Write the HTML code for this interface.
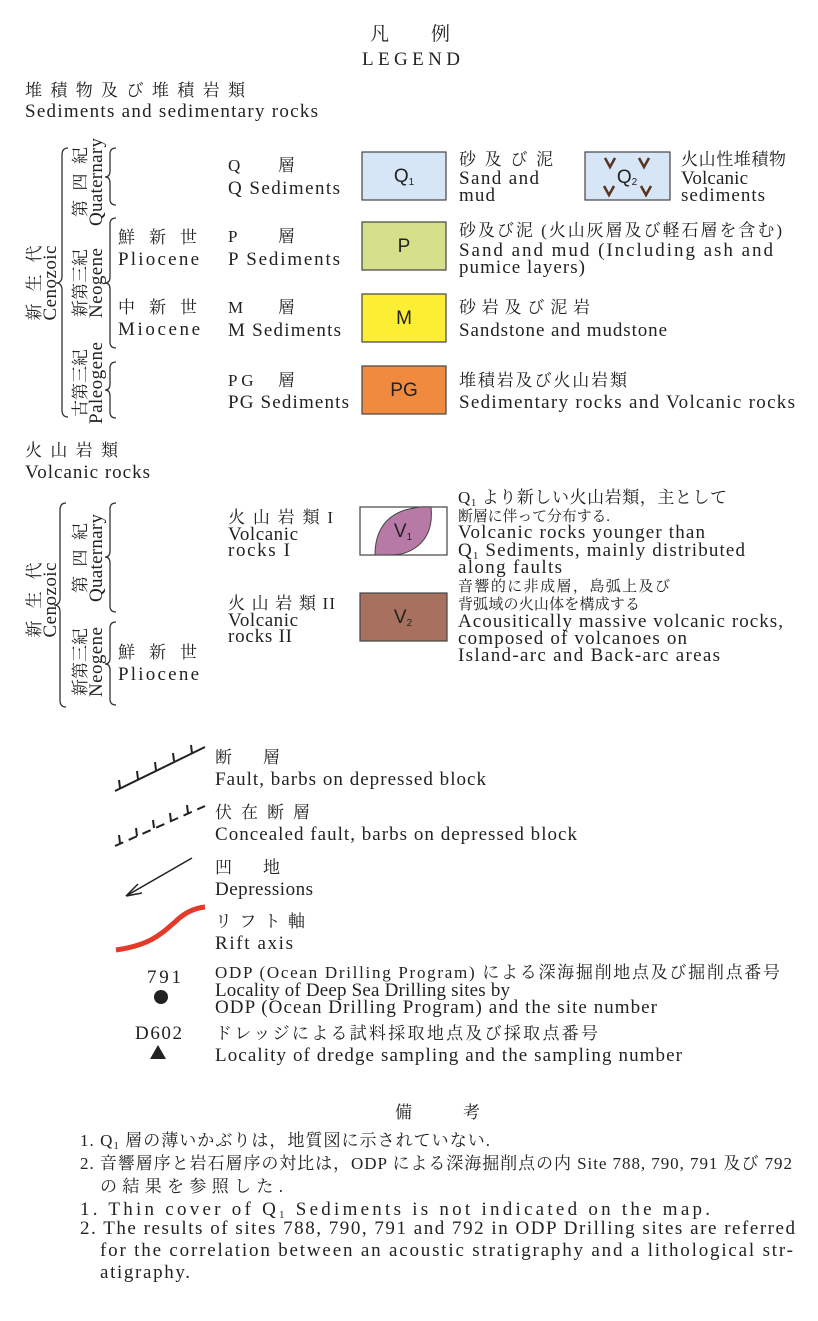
<!DOCTYPE html>
<html><head><meta charset="utf-8"><style>
html,body{margin:0;padding:0;background:#fff;}
svg{display:block;}
text{font-family:"Liberation Serif","Noto Serif CJK JP",serif;fill:#222;font-size:19px;}
.s{font-family:"Liberation Sans","Noto Sans CJK JP",sans-serif;}
.j{font-size:17px;}
.k{font-size:15px;}
</style></head><body>
<svg width="818" height="1321" viewBox="0 0 818 1321" xmlns="http://www.w3.org/2000/svg">
<text x="370" y="40" font-size="20" textLength="80" lengthAdjust="spacing">凡　例</text>
<text x="362" y="65" font-size="22" textLength="98" lengthAdjust="spacing">LEGEND</text>
<text x="25" y="96" class="j" textLength="220" lengthAdjust="spacing">堆積物及び堆積岩類</text>
<text x="25" y="117" textLength="293" lengthAdjust="spacing">Sediments and sedimentary rocks</text>

<g fill="none" stroke="#333" stroke-width="1.3">
<path d="M68 148 Q62 148 62 155 L62 276 Q62 283 56 283 Q62 283 62 290 L62 410 Q62 417 68 417"/>
<path d="M116 148 Q110 148 110 154 L110 171 Q110 177 105 177 Q110 177 110 183 L110 199 Q110 205 116 205"/>
<path d="M116 218 Q110 218 110 224 L110 277 Q110 283 105 283 Q110 283 110 289 L110 342 Q110 348 116 348"/>
<path d="M116 362 Q110 362 110 368 L110 384 Q110 390 105 390 Q110 390 110 396 L110 412 Q110 418 116 418"/>
<path d="M66 503 Q60 503 60 510 L60 598 Q60 605 54 605 Q60 605 60 612 L60 700 Q60 707 66 707"/>
<path d="M116 503 Q110 503 110 509 L110 551 Q110 557 105 557 Q110 557 110 563 L110 606 Q110 612 116 612"/>
<path d="M116 622 Q110 622 110 628 L110 658 Q110 664 105 664 Q110 664 110 670 L110 699 Q110 705 116 705"/>
</g>

<text transform="translate(40 283) rotate(-90)" class="j" text-anchor="middle" textLength="75" lengthAdjust="spacing">新 生 代</text>
<text transform="translate(56 283) rotate(-90)" text-anchor="middle" textLength="75" lengthAdjust="spacing">Cenozoic</text>
<text transform="translate(86 182) rotate(-90)" class="j" text-anchor="middle" textLength="70" lengthAdjust="spacing">第 四 紀</text>
<text transform="translate(102 182) rotate(-90)" text-anchor="middle" textLength="88" lengthAdjust="spacing">Quaternary</text>
<text transform="translate(86 283) rotate(-90)" class="j" text-anchor="middle">新第三紀</text>
<text transform="translate(102 283) rotate(-90)" text-anchor="middle" textLength="70" lengthAdjust="spacing">Neogene</text>
<text transform="translate(86 383) rotate(-90)" class="j" text-anchor="middle">古第三紀</text>
<text transform="translate(102 383) rotate(-90)" text-anchor="middle" textLength="82" lengthAdjust="spacing">Paleogene</text>

<text x="118" y="243" class="j" textLength="79" lengthAdjust="spacing">鮮 新 世</text><text x="118" y="265" textLength="81" lengthAdjust="spacing">Pliocene</text>
<text x="118" y="313" class="j" textLength="79" lengthAdjust="spacing">中 新 世</text><text x="118" y="335" textLength="82" lengthAdjust="spacing">Miocene</text>

<text x="228" y="171" class="j" textLength="67" lengthAdjust="spacing">Q　　層</text><text x="228" y="194" textLength="112" lengthAdjust="spacing">Q  Sediments</text>
<text x="228" y="242" class="j" textLength="67" lengthAdjust="spacing">P　　層</text><text x="228" y="265" textLength="112" lengthAdjust="spacing">P  Sediments</text>
<text x="228" y="313" class="j" textLength="67" lengthAdjust="spacing">M　　層</text><text x="228" y="336" textLength="113" lengthAdjust="spacing">M Sediments</text>
<text x="228" y="386" class="j" textLength="67" lengthAdjust="spacing">PG　層</text><text x="228" y="408" textLength="121" lengthAdjust="spacing">PG Sediments</text>

<rect x="362" y="152" width="84" height="48" fill="#d6e6f6" stroke="#444" stroke-width="1.2"/>
<text x="404" y="182" class="s" font-size="15" text-anchor="middle">Q<tspan font-size="10" dy="3">1</tspan></text>
<rect x="585" y="152" width="85" height="48" fill="#d6e6f6" stroke="#444" stroke-width="1.2"/>
<text x="627" y="183" class="s" font-size="15" text-anchor="middle">Q<tspan font-size="10" dy="2">2</tspan></text>
<g fill="none" stroke="#5a3320" stroke-width="2.5">
<path d="M605 158 L610 167 L615 158"/><path d="M639 158 L644 167 L649 158"/>
<path d="M604 186 L609 195 L614 186"/><path d="M641 186 L646 195 L651 186"/>
</g>
<rect x="362" y="222" width="84" height="48" fill="#d6e08a" stroke="#444" stroke-width="1.2"/>
<text x="404" y="252" class="s" font-size="15" text-anchor="middle">P</text>
<rect x="362" y="294" width="84" height="48" fill="#fbee33" stroke="#444" stroke-width="1.2"/>
<text x="404" y="324" class="s" font-size="15" text-anchor="middle">M</text>
<rect x="362" y="366" width="84" height="48" fill="#f08a3e" stroke="#444" stroke-width="1.2"/>
<text x="404" y="396" class="s" font-size="15" text-anchor="middle">PG</text>

<text x="459" y="165" class="j" textLength="94" lengthAdjust="spacing">砂 及 び 泥</text><text x="459" y="184" textLength="80" lengthAdjust="spacing">Sand and</text><text x="459" y="201" textLength="36" lengthAdjust="spacing">mud</text>
<text x="681" y="165" class="j" textLength="105" lengthAdjust="spacing">火山性堆積物</text><text x="681" y="184" textLength="67" lengthAdjust="spacing">Volcanic</text><text x="681" y="201" textLength="84" lengthAdjust="spacing">sediments</text>
<text x="459" y="236" class="j" textLength="323" lengthAdjust="spacing">砂及び泥 (火山灰層及び軽石層を含む)</text>
<text x="459" y="256" textLength="314" lengthAdjust="spacing">Sand and mud (Including ash and</text>
<text x="459" y="273" textLength="126" lengthAdjust="spacing">pumice layers)</text>
<text x="459" y="313" class="j" textLength="131" lengthAdjust="spacing">砂岩及び泥岩</text><text x="459" y="336" textLength="208" lengthAdjust="spacing">Sandstone and mudstone</text>
<text x="459" y="386" class="j" textLength="168" lengthAdjust="spacing">堆積岩及び火山岩類</text><text x="459" y="408" textLength="336" lengthAdjust="spacing">Sedimentary rocks and Volcanic rocks</text>

<text x="25" y="456" class="j" textLength="93" lengthAdjust="spacing">火 山 岩 類</text>
<text x="25" y="478" textLength="125" lengthAdjust="spacing">Volcanic rocks</text>

<text transform="translate(40 600) rotate(-90)" class="j" text-anchor="middle" textLength="75" lengthAdjust="spacing">新 生 代</text>
<text transform="translate(56 600) rotate(-90)" text-anchor="middle" textLength="75" lengthAdjust="spacing">Cenozoic</text>
<text transform="translate(86 558) rotate(-90)" class="j" text-anchor="middle" textLength="70" lengthAdjust="spacing">第 四 紀</text>
<text transform="translate(102 558) rotate(-90)" text-anchor="middle" textLength="88" lengthAdjust="spacing">Quaternary</text>
<text transform="translate(86 662) rotate(-90)" class="j" text-anchor="middle">新第三紀</text>
<text transform="translate(102 662) rotate(-90)" text-anchor="middle" textLength="70" lengthAdjust="spacing">Neogene</text>
<text x="118" y="658" class="j" textLength="79" lengthAdjust="spacing">鮮 新 世</text><text x="118" y="680" textLength="81" lengthAdjust="spacing">Pliocene</text>

<text x="228" y="523" class="j" textLength="105" lengthAdjust="spacing">火 山 岩 類 I</text><text x="228" y="540" textLength="70" lengthAdjust="spacing">Volcanic</text><text x="228" y="556" textLength="62" lengthAdjust="spacing">rocks  I</text>
<text x="228" y="609" class="j" textLength="107" lengthAdjust="spacing">火 山 岩 類 II</text><text x="228" y="626" textLength="70" lengthAdjust="spacing">Volcanic</text><text x="228" y="642" textLength="64" lengthAdjust="spacing">rocks  II</text>

<rect x="360" y="507" width="87" height="48" fill="#fff" stroke="#444" stroke-width="1.2"/>
<path d="M375 555 Q375 520 405 510 Q420 506 431 507 Q434 535 415 548 Q405 555 390 555 Z" fill="#b77aa6" stroke="#444" stroke-width="1"/>
<text x="403" y="537" class="s" font-size="15" text-anchor="middle">V<tspan font-size="10" dy="3">1</tspan></text>
<rect x="360" y="593" width="87" height="48" fill="#a8705e" stroke="#444" stroke-width="1.2"/>
<text x="403" y="623" class="s" font-size="15" text-anchor="middle">V<tspan font-size="10" dy="3">2</tspan></text>

<text x="458" y="503" class="j" textLength="269" lengthAdjust="spacing">Q<tspan font-size="11" dy="3">1</tspan><tspan dy="-3"> より新しい火山岩類，主として</tspan></text>
<text x="458" y="521" class="k" textLength="152" lengthAdjust="spacing">断層に伴って分布する.</text>
<text x="458" y="538" textLength="247" lengthAdjust="spacing">Volcanic rocks younger than</text>
<text x="458" y="556" textLength="287" lengthAdjust="spacing">Q<tspan font-size="11" dy="3">1</tspan><tspan dy="-3"> Sediments, mainly distributed</tspan></text>
<text x="458" y="573" textLength="104" lengthAdjust="spacing">along faults</text>
<text x="458" y="591" class="k" textLength="212" lengthAdjust="spacing">音響的に非成層，島弧上及び</text>
<text x="458" y="609" class="k" textLength="182" lengthAdjust="spacing">背弧域の火山体を構成する</text>
<text x="458" y="627" textLength="325" lengthAdjust="spacing">Acousitically massive volcanic rocks,</text>
<text x="458" y="644" textLength="229" lengthAdjust="spacing">composed of volcanoes on</text>
<text x="458" y="661" textLength="262" lengthAdjust="spacing">Island-arc and Back-arc areas</text>

<g stroke="#222" stroke-width="2" fill="none">
<path d="M115 791 L205 747"/>
<path d="M120 788 L119 780 M138 779 L137 771 M156 770 L155 762 M174 761 L173 753 M192 753 L191 745"/>
<path d="M115 846 L205 806" stroke-dasharray="9 6"/>
<path d="M120 843 L119 835 M137 836 L136 828 M154 828 L153 820 M171 821 L170 813 M188 813 L187 805"/>
</g>
<g stroke="#222" stroke-width="1.5" fill="none">
<path d="M192 858 L126 896"/><path d="M126 896 L138 884 M126 896 L142 893"/>
</g>
<path d="M116 950 C150 945 160 935 175 922 C185 912 195 908 205 907" stroke="#e33a2a" stroke-width="5" fill="none"/>
<text x="147" y="983" textLength="34" lengthAdjust="spacing">791</text>
<circle cx="161" cy="997" r="7" fill="#222"/>
<text x="135" y="1039" textLength="47" lengthAdjust="spacing">D602</text>
<path d="M158 1045 L166 1059 L150 1059 Z" fill="#222"/>

<text x="215" y="763" class="j" textLength="65" lengthAdjust="spacing">断　層</text><text x="215" y="785" textLength="271" lengthAdjust="spacing">Fault, barbs on depressed block</text>
<text x="215" y="818" class="j" textLength="95" lengthAdjust="spacing">伏 在 断 層</text><text x="215" y="840" textLength="362" lengthAdjust="spacing">Concealed fault, barbs on depressed block</text>
<text x="215" y="873" class="j" textLength="65" lengthAdjust="spacing">凹　地</text><text x="215" y="895" textLength="98" lengthAdjust="spacing">Depressions</text>
<text x="215" y="927" class="j" textLength="90" lengthAdjust="spacing">リ フ ト 軸</text><text x="215" y="949" textLength="78" lengthAdjust="spacing">Rift axis</text>
<text x="215" y="978" class="j" textLength="565" lengthAdjust="spacing">ODP (Ocean Drilling Program) による深海掘削地点及び掘削点番号</text>
<text x="215" y="996" textLength="295" lengthAdjust="spacing">Locality of Deep Sea Drilling sites by</text>
<text x="215" y="1013" textLength="442" lengthAdjust="spacing">ODP (Ocean Drilling Program) and the site number</text>
<text x="215" y="1039" class="j" textLength="383" lengthAdjust="spacing">ドレッジによる試料採取地点及び採取点番号</text>
<text x="215" y="1061" textLength="467" lengthAdjust="spacing">Locality of dredge sampling and the sampling number</text>

<text x="395" y="1118" class="j" textLength="85" lengthAdjust="spacing">備　考</text>
<text x="80" y="1146" class="j" textLength="410" lengthAdjust="spacing">1.  Q<tspan font-size="11" dy="3">1</tspan><tspan dy="-3"> 層の薄いかぶりは，地質図に示されていない.</tspan></text>
<text x="80" y="1169" class="j" textLength="712" lengthAdjust="spacing">2.  音響層序と岩石層序の対比は，ODP による深海掘削点の内 Site 788, 790, 791 及び 792</text>
<text x="100" y="1192" class="j" textLength="183" lengthAdjust="spacing">の結果を参照した.</text>
<text x="80" y="1215" textLength="630" lengthAdjust="spacing">1.  Thin cover of Q<tspan font-size="11" dy="3">1</tspan><tspan dy="-3"> Sediments is not indicated on the map.</tspan></text>
<text x="80" y="1234" textLength="715" lengthAdjust="spacing">2.  The results of sites 788, 790, 791 and 792 in ODP Drilling sites are referred</text>
<text x="100" y="1256" textLength="693" lengthAdjust="spacing">for the correlation between an acoustic stratigraphy and a lithological str-</text>
<text x="100" y="1278" textLength="90" lengthAdjust="spacing">atigraphy.</text>
</svg>
</body></html>
